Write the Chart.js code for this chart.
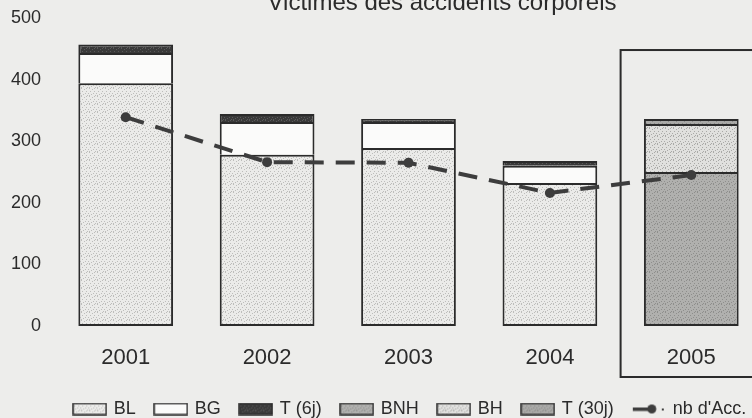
<!DOCTYPE html>
<html>
<head>
<meta charset="utf-8">
<script src="https://cdn.jsdelivr.net/npm/chart.js@4.4.0/dist/chart.umd.min.js"></script>
<style>
  html, body { margin: 0; padding: 0; overflow: hidden; background: #ededeb; }
  #wrap { width: 767px; height: 418px; }
</style>
</head>
<body>
<div id="wrap"><canvas id="c"></canvas></div>
<script>
// valeurs
const years = ['2001', '2002', '2003', '2004', '2005'];
const bl  = [394, 278, 289, 232, null];
const bg  = [49, 53, 42, 28, null];
const t6  = [14, 13, 5, 8, null];
const bnh = [null, null, null, null, 250];
const bh  = [null, null, null, null, 78];
const t30 = [null, null, null, null, 8];
const nbAcc = [339, 266, 265, 216, 245];

const INK = '#2b2b2b';
Chart.defaults.font.family = '"Liberation Sans", Arial, Helvetica, sans-serif';
Chart.defaults.color = INK;

// petite trame pointillee (fixe)
const dots = [[1,0],[4,1],[6,3],[2,3],[0,5],[5,5],[3,6],[7,7],[1,7],[6,0]];
function tile(base, ink) {
  const c = document.createElement('canvas');
  c.width = c.height = 8;
  const g = c.getContext('2d');
  g.fillStyle = base; g.fillRect(0, 0, 8, 8);
  g.fillStyle = ink;
  dots.forEach(([x, y]) => g.fillRect(x, y, 1, 1));
  return c;
}
const mainCtx = document.getElementById('c').getContext('2d');
const tiles = {
  bl:  tile('#ebebe9', '#bdbdbb'),
  bg:  tile('#fbfbfa', '#fbfbfa'),
  t6:  tile('#3a3a3a', '#5a5a5a'),
  bnh: tile('#b0b0ae', '#8e8e8c'),
  bh:  tile('#e0e0de', '#a9a9a7'),
  t30: tile('#a9a9a7', '#8a8a88')
};
const pat = k => mainCtx.createPattern(tiles[k], 'repeat');

function swatch(k) {
  const c = document.createElement('canvas');
  c.width = 35; c.height = 13;
  const g = c.getContext('2d');
  g.fillStyle = g.createPattern(tiles[k], 'repeat');
  g.fillRect(1, 1, 33, 11);
  g.strokeStyle = INK; g.lineWidth = 1.5;
  g.strokeRect(1, 1, 33, 11);
  return c;
}
function lineSwatch() {
  const c = document.createElement('canvas');
  c.width = 34; c.height = 13;
  const g = c.getContext('2d');
  g.fillStyle = '#3d3d3d';
  g.fillRect(1, 5, 16, 3.5);
  g.beginPath(); g.arc(20, 6.5, 4.5, 0, Math.PI * 2); g.fill();
  g.fillRect(30, 6, 2, 2);
  return c;
}
const swatches = [swatch('bl'), swatch('bg'), swatch('t6'), swatch('bnh'), swatch('bh'), swatch('t30'), lineSwatch()];

const bottomBorder = {top: 2, left: 2, right: 2, bottom: 2};
const upperBorder = {top: 2, left: 2, right: 2, bottom: 0};
function barSet(label, data, k, border) {
  return {
    type: 'bar', label, data, stack: 'v', order: 1,
    backgroundColor: pat(k), borderColor: INK, borderWidth: border, borderSkipped: false,
    barPercentage: 0.67, categoryPercentage: 1.0
  };
}

const boxPlugin = {
  id: 'cadre2005',
  beforeDatasetsDraw(chart) {
    const {ctx, scales: {x, y}, chartArea} = chart;
    const cw = x.getPixelForValue(1) - x.getPixelForValue(0);
    const left = x.getPixelForValue(4) - cw / 2;
    const top = y.getPixelForValue(448);
    const bottom = chartArea.bottom + 51;
    ctx.save();
    ctx.strokeStyle = INK; ctx.lineWidth = 2;
    ctx.strokeRect(left, top, chart.width + 20 - left, bottom - top);
    ctx.restore();
  }
};

const titlePlugin = {
  id: 'titreCoupe',
  afterLayout(chart) {
    const lg = chart.legend;
    lg.left += 27; lg.right += 27;
    const h = lg.height;
    lg.top = 409 - 9 - 20;
    lg.bottom = lg.top + h;
  },
  afterDraw(chart) {
    const ctx = chart.ctx;
    ctx.save();
    ctx.font = '24px "Liberation Sans", Arial, sans-serif';
    ctx.fillStyle = INK;
    ctx.textAlign = 'center';
    ctx.textBaseline = 'alphabetic';
    ctx.fillText('Victimes des accidents corporels', 442, 10);
    ctx.restore();
  }
};

new Chart(document.getElementById('c'), {
  data: {
    labels: years,
    datasets: [
      barSet('BL', bl, 'bl', bottomBorder),
      barSet('BG', bg, 'bg', upperBorder),
      barSet('T (6j)', t6, 't6', upperBorder),
      barSet('BNH', bnh, 'bnh', bottomBorder),
      barSet('BH', bh, 'bh', upperBorder),
      barSet('T (30j)', t30, 't30', upperBorder),
      {
        type: 'line', label: "nb d'Acc.", data: nbAcc, order: 0,
        borderColor: '#3d3d3d', borderWidth: 4, borderDash: [19, 12], tension: 0,
        pointRadius: 5, pointBackgroundColor: '#3d3d3d', pointBorderWidth: 0, fill: false
      }
    ]
  },
  options: {
    responsive: true,
    maintainAspectRatio: false,
    animation: false,
    layout: { padding: 0 },
    scales: {
      x: {
        stacked: true,
        grid: { display: false, drawTicks: false },
        border: { display: false },
        ticks: { font: { size: 22 }, padding: 19, color: INK },
        afterFit: s => {
          s.height = 92 - s.chart.legend.height;
          s.paddingLeft = 0; s.paddingRight = 0;
        }
      },
      y: {
        stacked: true,
        min: 0, max: 500,
        grid: { display: false, drawTicks: false },
        border: { display: false },
        ticks: { stepSize: 100, font: { size: 18 }, padding: 14, color: INK },
        afterFit: s => {
          s.width = 55;
          s.paddingTop = 18; s.paddingBottom = 0;
        }
      }
    },
    plugins: {
      tooltip: { enabled: false },
      legend: {
        position: 'bottom',
        labels: {
          usePointStyle: true,
          pointStyleWidth: 30,
          boxHeight: 13,
          padding: 20,
          font: { size: 18 },
          color: INK,
          generateLabels(chart) {
            const items = Chart.defaults.plugins.legend.labels.generateLabels(chart);
            items.forEach(it => { it.pointStyle = swatches[it.datasetIndex]; });
            return items.sort((a, b) => a.datasetIndex - b.datasetIndex);
          }
        }
      }
    }
  },
  plugins: [boxPlugin, titlePlugin]
});
</script>
</body>
</html>
